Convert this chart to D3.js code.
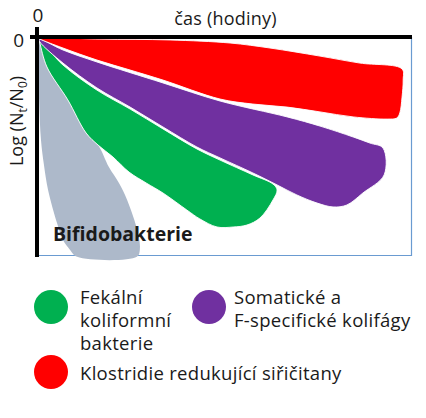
<!DOCTYPE html>
<html>
<head>
<meta charset="utf-8">
<script src="https://cdn.jsdelivr.net/npm/d3@7"></script>
<style>
  html, body { margin: 0; padding: 0; background: #fff; }
  svg { display: block; }
  text { font-family: "Open Sans", "Lato", sans-serif; fill: #1a1a1a; }
</style>
</head>
<body>
<svg id="chart" width="426" height="418"></svg>
<script>
// ---- data: band outlines as [time (relative %), log(Nt/N0) (relative)] ----
const clostridiaBand = [
  [0,0],[16.6,-0.5],[35.4,-0.9],[51.5,-2.3],[62.2,-4.6],[75.6,-8.3],[86.3,-11.5],[97.6,-14.2],
  [97.9,-19.3],[97.6,-27.1],[97.0,-34.4],[96.2,-36.7],[93.6,-37.2],
  [84.5,-36.2],[75.6,-33.9],[66.8,-31.7],[57.6,-30.3],[48.8,-28.0],[33.5,-19.3],[24.7,-14.7],
  [15.8,-10.1],[6.7,-4.6],[0.5,-0.5]
];
const colifagBand = [
  [0.3,-0.5],[6.7,-5.5],[15.8,-11.0],[33.5,-20.6],[48.8,-28.9],[66.8,-36.2],[75.6,-40.4],
  [84.5,-45.4],[89.0,-48.2],[92.5,-50.5],[92.8,-62.8],[87.1,-71.1],[82.8,-76.6],[79.1,-77.5],
  [74.8,-75.7],[69.4,-72.0],[64.1,-67.4],[57.6,-61.9],[48.8,-55.0],[42.6,-50.0],[33.5,-40.8],
  [24.7,-31.7],[15.8,-22.9],[6.7,-11.5],[0.5,-1.8]
];
const fecalBand = [
  [0.3,-0.9],[6.7,-12.4],[15.8,-23.9],[24.7,-32.6],[33.5,-41.7],[42.6,-50.9],[48.8,-56.0],
  [57.6,-62.8],[63.0,-67.0],[64.1,-69.7],[63.0,-74.3],[59.5,-82.6],[56.0,-85.8],[52.3,-86.7],
  [48.0,-86.7],[43.4,-83.0],[39.9,-78.9],[33.5,-71.1],[29.0,-66.5],[24.4,-61.5],[20.1,-54.6],
  [16.1,-49.1],[12.9,-43.6],[8.0,-28.4],[2.4,-13.3],[0.5,-2.3]
];
const bifidoBand = [
  [0,-0.9],[0.3,-28.4],[0.8,-46.8],[1.6,-58.3],[2.7,-69.7],[5.1,-84.9],[6.7,-92.7],[8.6,-97.2],
  [10.5,-100.4],[26.5,-100.4],[27.3,-97.2],[26.8,-89.4],[23.9,-74.3],[21.7,-66.5],[19.0,-59.2],
  [16.1,-49.1],[12.9,-43.6],[8.0,-28.4],[2.4,-13.3],[0.5,-2.3]
];

const bandNames  = ["Bifidobakterie", "Fekální koliformní bakterie", "Somatické a F-specifické kolifágy", "Klostridie redukující siřičitany"];
const bandColors = ["#ADB9CA", "#00B050", "#7030A0", "#FF0000"];
const bands = [bifidoBand, fecalBand, colifagBand, clostridiaBand];

const xTicks = [0];
const yTicks = [0];
const xTitle = "čas (hodiny)";
const bandLabel = "Bifidobakterie";

const legendItems = [
  { lines: ["Fekální", "koliformní", "bakterie"], color: "#00B050" },
  { lines: ["Somatické a", "F-specifické kolifágy"], color: "#7030A0" },
  { lines: ["Klostridie redukující siřičitany"], color: "#FF0000" }
];

// ---- layout ----
const svg = d3.select("#chart");
const x = d3.scaleLinear().domain([0, 100]).range([38, 411]);
const y = d3.scaleLinear().domain([0, -100]).range([38, 256]);

// frame (thin blue right/bottom)
svg.append("line").attr("x1", x(0)).attr("x2", 411.5).attr("y1", 255.5).attr("y2", 255.5)
  .attr("stroke", "#6A9BD1").attr("stroke-width", 1.2);
svg.append("line").attr("x1", 411.5).attr("x2", 411.5).attr("y1", 37).attr("y2", 256)
  .attr("stroke", "#6A9BD1").attr("stroke-width", 1.2);

// bands
const outline = d3.line()
  .x(d => x(d[0])).y(d => y(d[1]))
  .curve(d3.curveCatmullRomClosed.alpha(0.5));

svg.append("g").selectAll("path")
  .data(bands)
  .join("path")
  .attr("d", d => outline(d))
  .attr("fill", (d, i) => bandColors[i])
  .attr("stroke", (d, i) => i === 0 ? "none" : "#fff")
  .attr("stroke-width", 0.9);

// axes (thick black)
svg.append("line").attr("x1", 30).attr("x2", 412).attr("y1", 37).attr("y2", 37)
  .attr("stroke", "#000").attr("stroke-width", 4);
svg.append("line").attr("x1", 37).attr("x2", 37).attr("y1", 27).attr("y2", 257)
  .attr("stroke", "#000").attr("stroke-width", 4);

// tick labels via d3 axes
const gx = svg.append("g").attr("transform", "translate(0,37)")
  .call(d3.axisTop(x).tickValues(xTicks).tickSize(0).tickPadding(15).tickFormat(d3.format("d")));
gx.select(".domain").remove();
gx.selectAll("text").attr("font-size", 19).attr("fill", "#1a1a1a")
  .attr("font-family", "'Open Sans', sans-serif").attr("dx", -0.5);

const gy = svg.append("g").attr("transform", "translate(37,0)")
  .call(d3.axisLeft(y).tickValues(yTicks).tickSize(0).tickPadding(13).tickFormat(d3.format("d")));
gy.select(".domain").remove();
gy.selectAll("text").attr("font-size", 19).attr("fill", "#1a1a1a")
  .attr("font-family", "'Open Sans', sans-serif").attr("dy", "0.45em");

// x title
svg.append("text").attr("x", 225.5).attr("y", 25).attr("text-anchor", "middle")
  .attr("font-size", 18).attr("letter-spacing", 0.2).text(xTitle);

// y title (rotated) with subscripts
const yt = svg.append("text")
  .attr("transform", "translate(23,121) rotate(-90)")
  .attr("text-anchor", "middle").attr("font-size", 18);
yt.append("tspan").text("Log (N");
yt.append("tspan").attr("font-size", 12).attr("dy", 4).text("t");
yt.append("tspan").attr("dy", -4).text("/N");
yt.append("tspan").attr("font-size", 12).attr("dy", 4).text("0");
yt.append("tspan").attr("dy", -4).text(")");

// band label
svg.append("text").attr("x", 53).attr("y", 241)
  .attr("font-size", 19.5).attr("font-weight", "bold").attr("fill", "#000")
  .text(bandLabel);

// legend
const legendPos = [
  { cx: 51, cy: 307, tx: 80, ty: 304 },
  { cx: 209, cy: 307, tx: 234, ty: 304 },
  { cx: 51, cy: 372, tx: 80, ty: 380 }
];
const lg = svg.append("g").selectAll("g").data(legendItems).join("g");
lg.append("circle")
  .attr("cx", (d, i) => legendPos[i].cx).attr("cy", (d, i) => legendPos[i].cy)
  .attr("r", 17).attr("fill", d => d.color);
lg.each(function(d, i) {
  const t = d3.select(this).append("text")
    .attr("x", legendPos[i].tx).attr("y", legendPos[i].ty)
    .attr("font-size", 18.5).attr("letter-spacing", 0.3);
  d.lines.forEach((line, j) => {
    t.append("tspan").attr("x", legendPos[i].tx).attr("dy", j === 0 ? 0 : 23).text(line);
  });
});
</script>
</body>
</html>
